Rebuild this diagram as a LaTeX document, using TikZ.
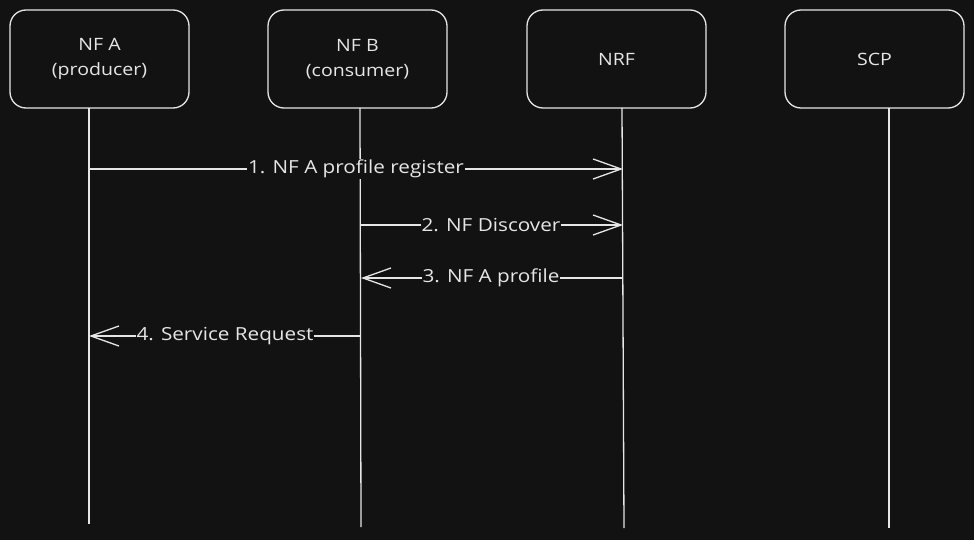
\documentclass[tikz,border=0pt]{standalone}
\usepackage{fontspec}
\setmainfont{Open Sans}[FakeStretch=1.15]
\usetikzlibrary{arrows.meta}
\definecolor{bg}{HTML}{121212}
\definecolor{ink}{HTML}{E6E6E6}
\begin{document}
\begin{tikzpicture}[x=1pt,y=-1pt,
  actor/.style={draw=ink,line width=1.3pt,rounded corners=16pt,fill=bg,minimum width=179pt,minimum height=98pt,text=ink,align=center,font=\fontsize{17}{25}\selectfont,inner sep=0pt},
  life/.style={draw=ink,line width=1.3pt},
  msg/.style={draw=ink,line width=1.3pt,-{Straight Barb[length=28pt,width=20pt,line width=1.3pt]}},
  lbl/.style={fill=bg,text=ink,font=\fontsize{18}{20}\selectfont,inner sep=1pt}]
\fill[bg] (0,0) rectangle (974,540);
\useasboundingbox (0,0) rectangle (974,540);
\node[actor] (a) at (99.5,59) {NF A\\(producer)};
\node[actor] (b) at (357.5,59) {NF B\\(consumer)};
\node[actor] (n) at (616.5,59) {NRF};
\node[actor] (s) at (874.5,59) {SCP};
\coordinate (ae) at (89,524);
\coordinate (be) at (361,527);
\coordinate (ne) at (624,528);
\coordinate (se) at (889,528);
\coordinate (at) at (89,108);
\coordinate (bt) at (360,108);
\coordinate (nt) at (622,108);
\coordinate (st) at (889,108);
\draw[life] (at) -- (ae);
\draw[life] (bt) -- (be);
\draw[life] (nt) -- (ne);
\draw[life] (st) -- (se);
\coordinate (m1s) at (89,169); \coordinate (m1e) at (623,169);
\coordinate (m2s) at (361,225); \coordinate (m2e) at (623,225);
\coordinate (m3s) at (623,278); \coordinate (m3e) at (361,278);
\coordinate (m4s) at (361,336); \coordinate (m4e) at (89,336);
\draw[msg] (m1s) -- (m1e);
\draw[msg] (m2s) -- (m2e);
\draw[msg] (m3s) -- (m3e);
\draw[msg] (m4s) -- (m4e);
\node[lbl] (l1) at (356,169) {1. NF A profile register};
\node[lbl] (l2) at (491,225) {2. NF Discover};
\node[lbl] (l3) at (491,278) {3. NF A profile};
\node[lbl] (l4) at (225,336) {4. Service Request};
\end{tikzpicture}
\end{document}
